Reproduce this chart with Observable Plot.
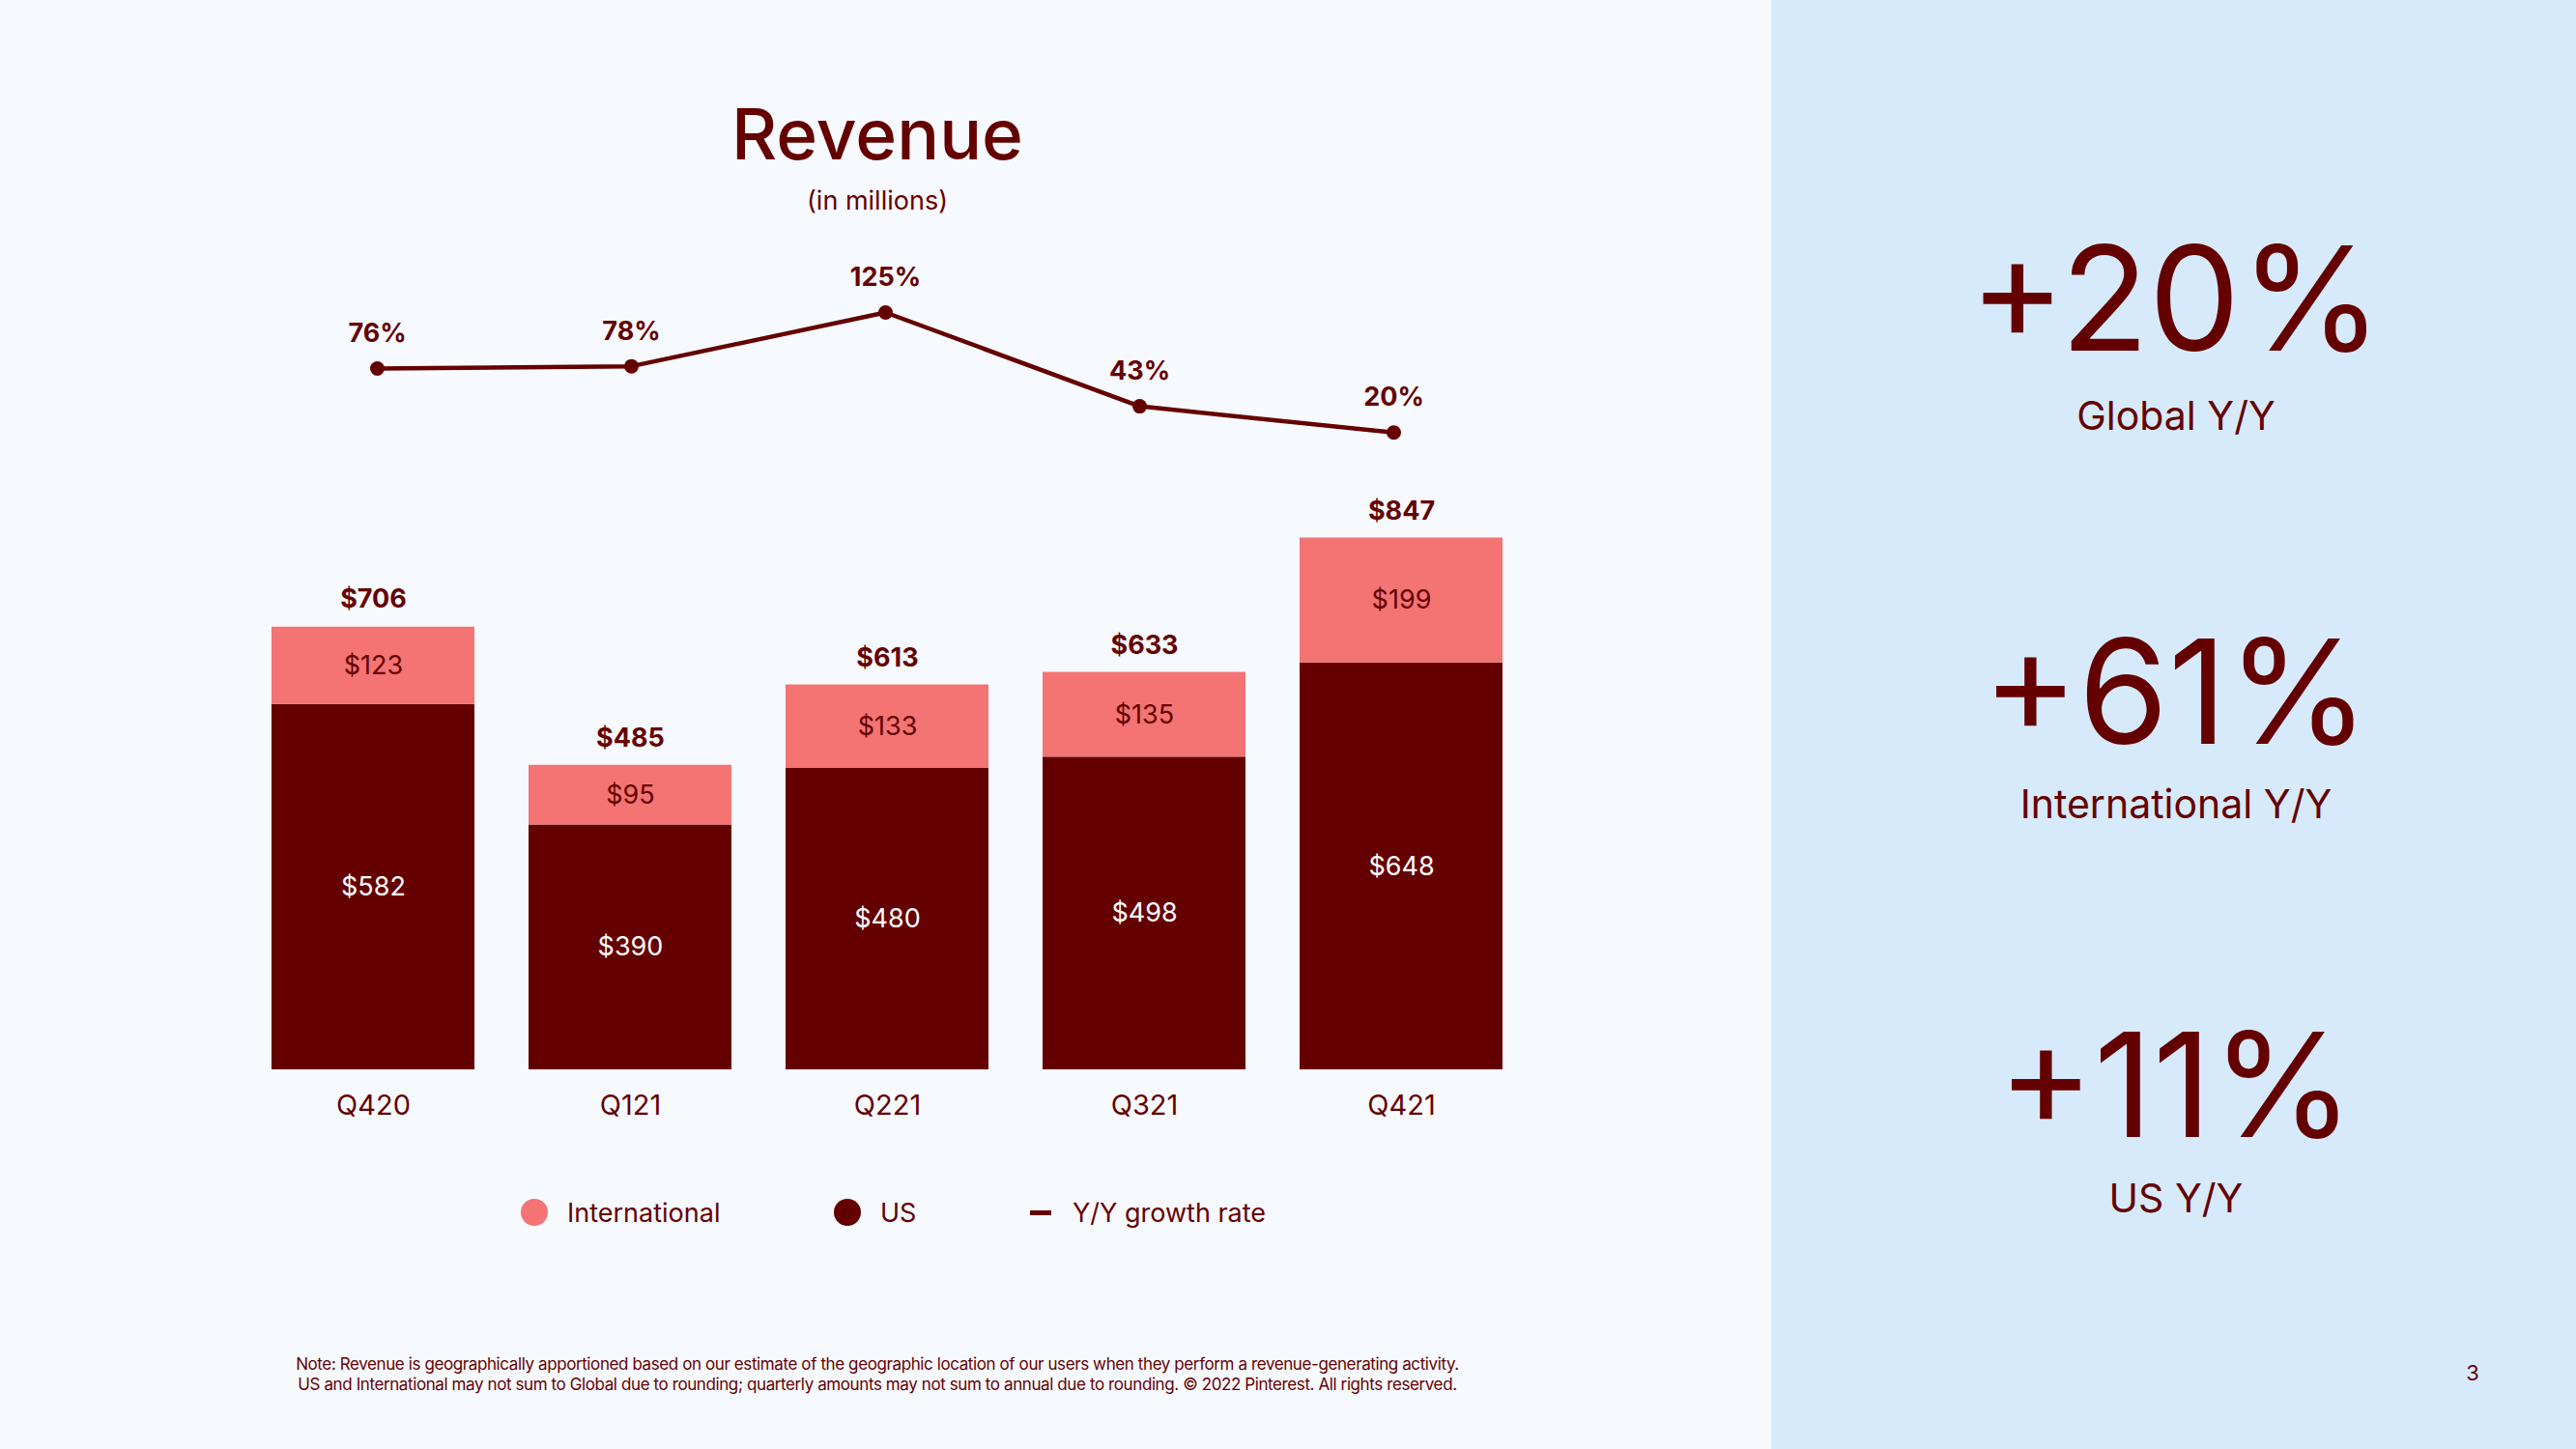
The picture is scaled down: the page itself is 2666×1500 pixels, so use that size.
<!DOCTYPE html>
<html><head><meta charset="utf-8">
<script src="https://cdn.jsdelivr.net/npm/d3@7"></script>
<script src="https://cdn.jsdelivr.net/npm/@observablehq/plot@0.6"></script>
<style>
html,body{margin:0;padding:0;}
body{width:2666px;height:1500px;position:relative;overflow:hidden;background:#f6f9fe;font-family:Inter, "Noto Sans", sans-serif;color:#650000;}
.abs{position:absolute;white-space:nowrap;}
#right{position:absolute;left:1833px;top:0;width:833px;height:1500px;background:#d7eafc;}
.chart{position:absolute;left:0;top:0;}
.dot{position:absolute;border-radius:50%;}
</style></head><body>
<div id="right"></div>
<div id="barchart" class="chart"></div>
<div id="linechart" class="chart"></div>
<script>
// ---- data ----
const quarters = ["Q420", "Q121", "Q221", "Q321", "Q421"];
const usRevenue = [582, 390, 480, 498, 648];
const intlRevenue = [123, 95, 133, 135, 199];
const totalRevenue = [706, 485, 613, 633, 847];
const growthRate = [76, 78, 125, 43, 20];
const highlightValues = ["+20%", "+61%", "+11%"];
const highlightLabels = ["Global Y/Y", "International Y/Y", "US Y/Y"];
const legendLabels = ["International", "US", "Y/Y growth rate"];
const titleText = "Revenue";
const subtitleText = "(in millions)";
const noteLines = [
  "Note: Revenue is geographically apportioned based on our estimate of the geographic location of our users when they perform a revenue-generating activity.",
  "US and International may not sum to Global due to rounding; quarterly amounts may not sum to annual due to rounding. © 2022 Pinterest. All rights reserved."
];
const pageNumber = "3";

const DARK = "#650000";
const PINK = "#f37473";
const FONT = "Inter, 'Noto Sans', sans-serif";

// ---- table built from arrays ----
const segments = [];
quarters.forEach((q, i) => {
  segments.push({quarter: q, series: "US", y1: 0, y2: usRevenue[i], value: usRevenue[i]});
  segments.push({quarter: q, series: "International", y1: usRevenue[i], y2: usRevenue[i] + intlRevenue[i], value: intlRevenue[i]});
});
const totals = quarters.map((q, i) => ({quarter: q, total: totalRevenue[i]}));
const growth = quarters.map((q, i) => ({quarter: q, rate: growthRate[i]}));

const W = 1833, H = 1200;

const bars = Plot.plot({
  width: W, height: H,
  marginLeft: 223, marginRight: 219, marginTop: 457, marginBottom: 93,
  style: {background: "transparent", fontFamily: FONT, color: DARK},
  x: {type: "band", domain: quarters, padding: 0.21, label: null},
  y: {domain: [0, 1000], axis: null},
  color: {domain: ["International", "US"], range: [PINK, DARK]},
  marks: [
    Plot.barY(segments, {x: "quarter", y1: "y1", y2: "y2", fill: "series"}),
    Plot.text(segments, {x: "quarter", y: d => (d.y1 + d.y2) / 2, text: d => "$" + d.value,
      fill: d => d.series === "US" ? "white" : DARK, fontSize: 27}),
    Plot.text(totals, {x: "quarter", y: "total", text: d => "$" + d.total, dy: -28,
      fill: DARK, fontSize: 27, fontWeight: "bold"}),
    Plot.axisX({tickSize: 0, tickPadding: 26, fontSize: 29, fill: DARK, label: null})
  ]
});
document.getElementById("barchart").appendChild(bars);

const line = Plot.plot({
  width: W, height: H,
  style: {background: "transparent", fontFamily: FONT, color: DARK},
  x: {type: "point", domain: quarters, range: [389, 1442], padding: 0, axis: null},
  y: {domain: [0, 125], range: [471, 323], axis: null},
  marks: [
    Plot.line(growth, {x: "quarter", y: "rate", stroke: DARK, strokeWidth: 4.5}),
    Plot.dot(growth, {x: "quarter", y: "rate", r: 7.5, fill: DARK}),
    Plot.text(growth, {x: "quarter", y: "rate", text: d => d.rate + "%", dy: -36,
      fill: DARK, fontSize: 27, fontWeight: "bold"})
  ]
});
document.getElementById("linechart").appendChild(line);

// ---- HTML text ----
function addText(txt, cx, cy, fs, opts = {}) {
  const L = opts.lh || fs;
  const d = document.createElement("div");
  d.className = "abs";
  d.textContent = txt;
  d.style.fontSize = fs + "px";
  d.style.lineHeight = L + "px";
  d.style.top = (cy - L / 2) + "px";
  if (opts.anchor === "start") {
    d.style.left = cx + "px";
  } else {
    d.style.left = (cx - 1500) + "px";
    d.style.width = "3000px";
    d.style.textAlign = "center";
  }
  if (opts.weight) d.style.fontWeight = opts.weight;
  if (opts.spacing) d.style.letterSpacing = opts.spacing;
  document.body.appendChild(d);
  return d;
}
addText(titleText, 908, 138, 73, {weight: 500});
addText(subtitleText, 908, 207, 27);

// legend
const legendX = [553, 877];
const legendTextX = [587, 911, 1110];
const legendY = 1255;
[PINK, DARK].forEach((c, i) => {
  const d = document.createElement("div");
  d.className = "dot";
  d.style.width = "28px"; d.style.height = "28px";
  d.style.left = (legendX[i] - 14) + "px"; d.style.top = (legendY - 14) + "px";
  d.style.background = c;
  document.body.appendChild(d);
});
{
  const d = document.createElement("div");
  d.className = "abs";
  d.style.left = "1066px"; d.style.top = (legendY - 2.5) + "px";
  d.style.width = "22px"; d.style.height = "5px"; d.style.background = DARK;
  document.body.appendChild(d);
}
legendLabels.forEach((t, i) => addText(t, legendTextX[i], legendY, 27, {anchor: "start"}));

// notes
addText(noteLines[0], 908, 1412, 17, {spacing: "-0.4px"});
addText(noteLines[1], 908, 1433, 17, {spacing: "-0.4px"});

// right panel
const hlY = [309, 716, 1123];
const hlLabelY = [430, 832, 1240];
highlightValues.forEach((t, i) => addText(t, 2252, hlY[i], 150, {weight: 400, lh: 114}));
highlightLabels.forEach((t, i) => addText(t, 2252, hlLabelY[i], 41, {lh: 34}));
addText(pageNumber, 2559, 1421, 22);
</script>
</body></html>
